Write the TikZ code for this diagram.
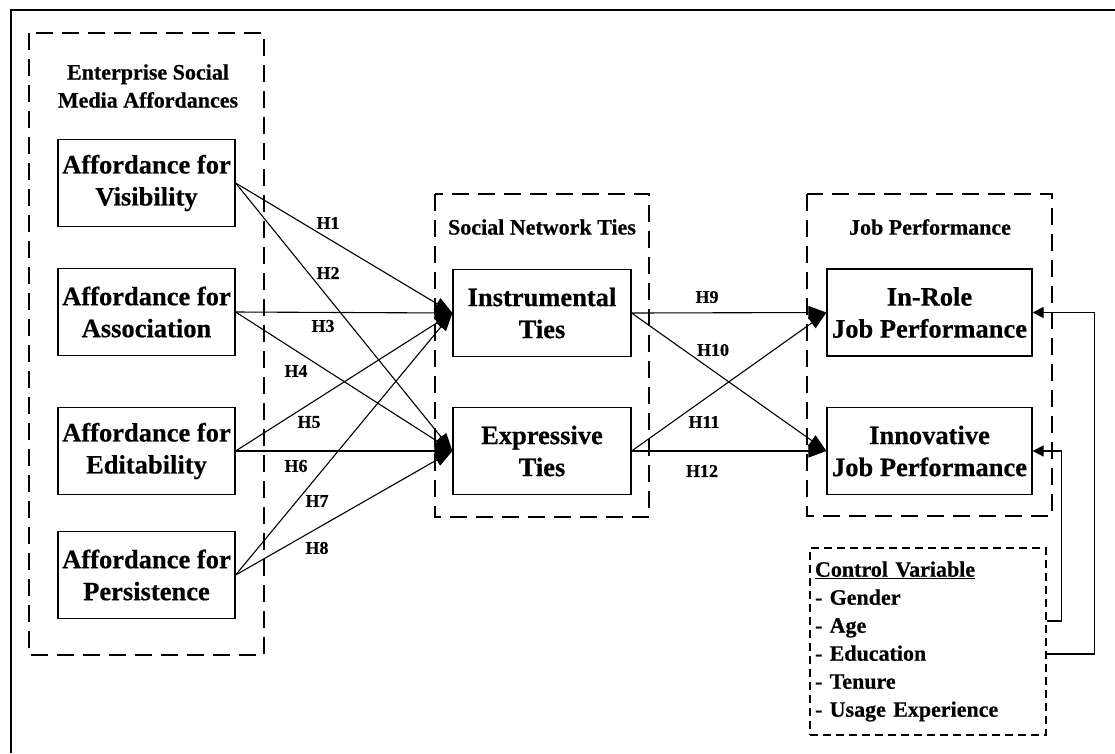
\documentclass[tikz,border=0pt]{standalone}
\usepackage{fontspec}
\setmainfont{Liberation Serif}[BoldFeatures={FakeBold=0.5}]
\usetikzlibrary{arrows.meta}
\begin{document}
\begin{tikzpicture}[x=1pt,y=-1pt,
  box/.style={draw, line width=1.2pt, minimum width=177pt, minimum height=87pt, align=center, inner sep=0pt, font=\fontsize{26.5}{32}\selectfont\bfseries},
  grp/.style={draw, line width=1.2pt, dash pattern=on 17pt off 9pt},
  hd/.style={align=center, inner sep=0pt, font=\fontsize{22}{28}\selectfont\bfseries},
  hl/.style={font=\fontsize{18}{20}\selectfont\bfseries, inner sep=0pt},
  arr/.style={line width=1.1pt, -{Triangle[length=18pt,width=13pt]}},
  fb/.style={line width=1.1pt, -{Triangle[length=11pt,width=11pt]}}
]
\useasboundingbox (0,0) rectangle (1115,753);
\fill[white] (0,0) rectangle (1115,753);
% outer frame
\draw[line width=2pt] (11,753) -- (11,10) -- (1115,10);

% groups
\draw[grp] (29,33) rectangle (264,655);
\draw[grp] (435,194) rectangle (649,517);
\draw[grp] (807,194) rectangle (1052,516);

% headers
\node[hd] (h1) at (148,86) {Enterprise Social\\Media Affordances};
\node[hd] (h2) at (542,227) {Social Network Ties};
\node[hd] (h3) at (930,227) {Job Performance};

% boxes
\node[box] (vis) at (146.5,183) {Affordance for\\Visibility};
\node[box] (asc) at (146.5,312) {Affordance for\\Association};
\node[box] (edi) at (146.5,451) {Affordance for\\Editability};
\node[box] (per) at (146.5,575) {Affordance for\\Persistence};
\node[box, minimum width=178pt] (ins) at (542,313) {Instrumental\\Ties};
\node[box, minimum width=178pt] (exp) at (542,451) {Expressive\\Ties};
\node[box, minimum width=205pt] (inr) at (929.5,312.5) {In-Role\\Job Performance};
\node[box, minimum width=205pt] (inn) at (929.5,451) {Innovative\\Job Performance};

% control variables
\node[draw, line width=1.2pt, dash pattern=on 8pt off 5pt, minimum width=236pt, minimum height=187pt,
      inner xsep=5pt, inner ysep=0pt, text width=226pt, align=left,
      font=\fontsize{22}{28}\selectfont\bfseries] (ctrl) at (928,641.5)
  {\underline{Control Variable}\\- Gender\\- Age\\- Education\\- Tenure\\- Usage Experience};

% hypotheses arrows
\draw[arr] (vis.east) -- (ins.west);
\draw[arr] (vis.east) -- (exp.west);
\draw[arr] (asc.east) -- (ins.west);
\draw[arr] (asc.east) -- (exp.west);
\draw[arr] (edi.east) -- (ins.west);
\draw[arr] (edi.east) -- (exp.west);
\draw[arr] (per.east) -- (ins.west);
\draw[arr] (per.east) -- (exp.west);
\draw[arr] (ins.east) -- (inr.west);
\draw[arr] (ins.east) -- (inn.west);
\draw[arr] (exp.east) -- (inr.west);
\draw[arr] (exp.east) -- (inn.west);

% feedback from control
\draw[fb] ([yshift=20.5pt]ctrl.east) -- ++(15,0) |- (inn.east);
\draw[fb] ([yshift=-12.5pt]ctrl.east) -- ++(48,0) |- (inr.east);

% labels
\node[hl] (l1) at (328,223) {H1};
\node[hl] (l2) at (328,273) {H2};
\node[hl] (l3) at (323,326) {H3};
\node[hl] (l4) at (296,371) {H4};
\node[hl] (l5) at (309,422) {H5};
\node[hl] (l6) at (296,466) {H6};
\node[hl] (l7) at (317,501) {H7};
\node[hl] (l8) at (317,548) {H8};
\node[hl] (l9) at (707,297) {H9};
\node[hl] (l10) at (713,350) {H10};
\node[hl] (l11) at (704,422) {H11};
\node[hl] (l12) at (702,471) {H12};
\end{tikzpicture}
\end{document}
